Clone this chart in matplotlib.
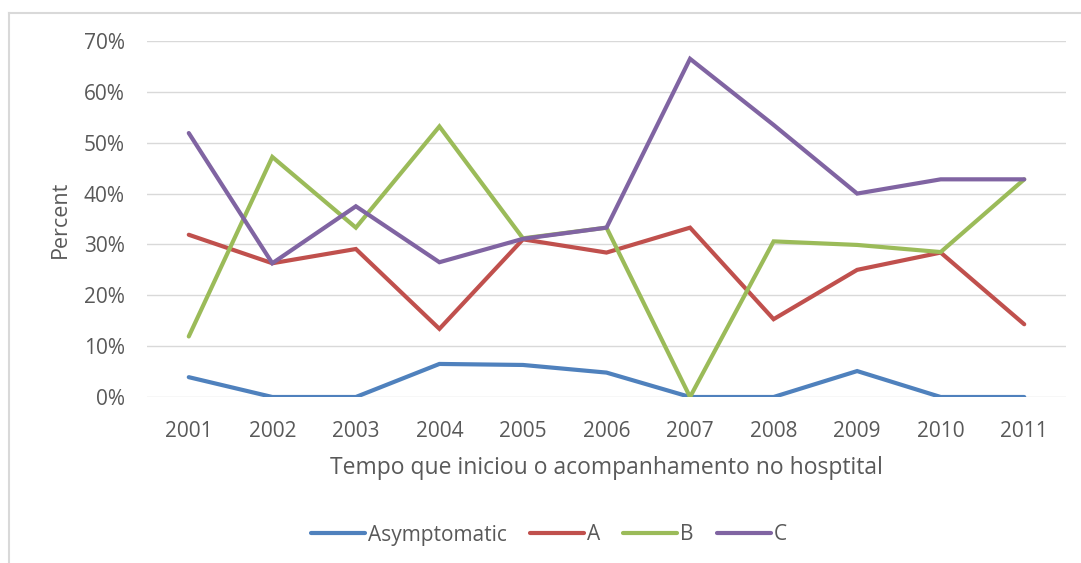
import matplotlib.pyplot as plt
from matplotlib.lines import Line2D
from matplotlib.ticker import PercentFormatter

years = ["2001", "2002", "2003", "2004", "2005", "2006", "2007", "2008", "2009", "2010", "2011"]
asymptomatic = [3.9, 0, 0, 6.5, 6.3, 4.8, 0, 0, 5.1, 0, 0]
grp_a = [31.9, 26.3, 29.1, 13.4, 31.0, 28.4, 33.3, 15.3, 25.0, 28.4, 14.3]
grp_b = [11.9, 47.2, 33.3, 53.2, 31.2, 33.3, 0, 30.6, 29.9, 28.5, 42.8]
grp_c = [51.9, 26.3, 37.5, 26.5, 31.1, 33.3, 66.5, 53.5, 40.0, 42.8, 42.8]

series = [
    ("Asymptomatic", asymptomatic, "#4F81BD"),
    ("A", grp_a, "#C0504D"),
    ("B", grp_b, "#9BBB59"),
    ("C", grp_c, "#8064A2"),
]

plt.rcParams['font.family'] = ['Open Sans', 'DejaVu Sans']
txt = "#595959"

fig = plt.figure(figsize=(10.81, 5.63), dpi=100)
ax = fig.add_axes([147 / 1081, 1 - 397 / 563, (1066 - 147) / 1081, (397 - 41) / 563])

x = range(len(years))
for name, vals, col in series:
    ax.plot(x, vals, color=col, lw=3, label=name, solid_capstyle='round', solid_joinstyle='miter')

ax.set_xlim(-0.5, len(years) - 0.5)
ax.set_ylim(0, 70)
ax.set_yticks(range(0, 71, 10))
ax.yaxis.set_major_formatter(PercentFormatter(decimals=0))
ax.set_xticks(list(x))
ax.set_xticklabels(years)
ax.grid(axis='y', color='#D9D9D9', lw=1)
ax.set_axisbelow(True)
for s in ax.spines.values():
    s.set_visible(False)
ax.tick_params(length=0, colors=txt, labelsize=15)
ax.tick_params(axis='y', pad=16)
ax.tick_params(axis='x', pad=17)

ax.set_xlabel("Tempo que iniciou o acompanhamento no hosptital", fontsize=16.5, color=txt, labelpad=10)
ax.set_ylabel("Percent", fontsize=15.5, color=txt, labelpad=9)

handles = [Line2D([], [], color=c, lw=3, solid_capstyle='round') for _, _, c in series]
fig.legend(handles, [n for n, _, _ in series], loc='center', bbox_to_anchor=(549 / 1081, 1 - 535 / 563),
           ncol=4, frameon=False, fontsize=15, labelcolor=txt, handlelength=2.6,
           handletextpad=0.15, columnspacing=1.1)

# outer chart border (top and left visible)
fig.add_artist(Line2D([9 / 1081, 1], [1 - 13 / 563, 1 - 13 / 563], color='#D9D9D9', lw=1.5))
fig.add_artist(Line2D([9 / 1081, 9 / 1081], [0, 1 - 13 / 563], color='#D9D9D9', lw=1.5))

fig.savefig("out.png", dpi=100)
